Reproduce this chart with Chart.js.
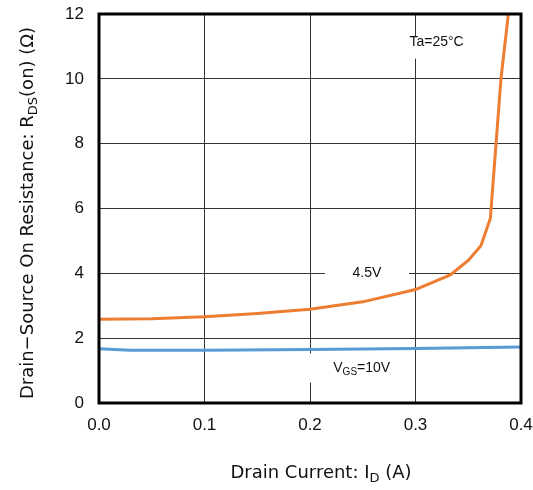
<!DOCTYPE html>
<html>
<head>
<meta charset="utf-8">
<script src="https://cdn.jsdelivr.net/npm/chart.js@4"></script>
<style>
  html, body { margin: 0; padding: 0; background: #fff; }
  #wrap { width: 533px; height: 490px; }
</style>
</head>
<body>
<div id="wrap"><canvas id="rdsChart" width="533" height="490"></canvas></div>
<script>
const FONT = '"Liberation Sans", Arial, sans-serif';
const TITLE_FONT = '"DejaVu Sans", sans-serif';

// I_D (A) and R_DS(on) (ohm)
const id45 = [0, 0.05, 0.1, 0.15, 0.2, 0.25, 0.3, 0.333, 0.35, 0.362, 0.371, 0.381, 0.388];
const rds45 = [2.58, 2.6, 2.66, 2.76, 2.89, 3.12, 3.5, 3.95, 4.4, 4.85, 5.7, 10, 12];
const id10 = [0, 0.03, 0.1, 0.2, 0.3, 0.4];
const rds10 = [1.67, 1.63, 1.63, 1.65, 1.68, 1.73];
const xTicks = [0, 0.1, 0.2, 0.3, 0.4];
const yTicks = [0, 2, 4, 6, 8, 10, 12];

const toPoints = (xs, ys) => xs.map((x, i) => ({ x, y: ys[i] }));

// labels on a white box inside the plot; text at (x, y), box centred at (bx, by)
const notes = [
  { text: 'Ta=25\u00B0C', x: 0.32, y: 11.12, bx: 0.32, by: 10.96, w: 66, h: 22 },
  { text: '4.5V', x: 0.254, y: 4.02, bx: 0.254, by: 4.0, w: 84, h: 22 },
  { text: 'V', sub: 'GS', after: '=10V', x: 0.249, y: 1.08, bx: 0.249, by: 1.08, w: 106, h: 29 }
];

function drawSubText(ctx, parts, cx, cy, size, family) {
  // parts: [text, sub, text]
  const fam = family || FONT;
  const subSize = Math.round(size * 0.7);
  ctx.font = `${size}px ${fam}`;
  const w1 = ctx.measureText(parts[0]).width;
  const w3 = ctx.measureText(parts[2]).width;
  ctx.font = `${subSize}px ${fam}`;
  const w2 = ctx.measureText(parts[1]).width;
  let x = cx - (w1 + w2 + w3) / 2;
  ctx.textAlign = 'left';
  ctx.textBaseline = 'middle';
  ctx.font = `${size}px ${fam}`;
  ctx.fillText(parts[0], x, cy);
  x += w1;
  ctx.font = `${subSize}px ${fam}`;
  ctx.fillText(parts[1], x, cy + size * 0.3);
  x += w2;
  ctx.font = `${size}px ${fam}`;
  ctx.fillText(parts[2], x, cy);
}

const decor = {
  id: 'decor',
  beforeDatasetsDraw(chart) {
    const { ctx, scales } = chart;
    ctx.save();
    notes.forEach(n => {
      const bx = scales.x.getPixelForValue(n.bx);
      const by = scales.y.getPixelForValue(n.by);
      ctx.fillStyle = '#fff';
      ctx.fillRect(bx - n.w / 2, by - n.h / 2, n.w, n.h);
      const cx = scales.x.getPixelForValue(n.x);
      const cy = scales.y.getPixelForValue(n.y);
      ctx.fillStyle = '#111';
      if (n.sub) {
        drawSubText(ctx, [n.text, n.sub, n.after], cx, cy, 14);
      } else {
        ctx.font = `14px ${FONT}`;
        ctx.textAlign = 'center';
        ctx.textBaseline = 'middle';
        ctx.fillText(n.text, cx, cy);
      }
    });
    ctx.restore();
  },
  afterDatasetsDraw(chart) {
    const { ctx, chartArea: a } = chart;
    ctx.save();
    ctx.strokeStyle = '#000';
    ctx.lineWidth = 3;
    ctx.strokeRect(a.left, a.top, a.right - a.left, a.bottom - a.top);
    ctx.restore();
  },
  afterDraw(chart) {
    const { ctx } = chart;
    ctx.save();
    ctx.fillStyle = '#111';
    // x axis title
    drawSubText(ctx, ['Drain Current: I', 'D', ' (A)'], 321, 473, 18, TITLE_FONT);
    // y axis title
    ctx.translate(28, 213);
    ctx.rotate(-Math.PI / 2);
    drawSubText(ctx, ['Drain\u2212Source On Resistance: R', 'DS', '(on) (\u03A9)'], 0, 0, 18, TITLE_FONT);
    ctx.restore();
  }
};

new Chart(document.getElementById('rdsChart'), {
  type: 'line',
  data: {
    datasets: [
      {
        label: '4.5V',
        data: toPoints(id45, rds45),
        borderColor: '#ED7D31',
        borderWidth: 3,
        pointRadius: 0,
        tension: 0
      },
      {
        label: '10V',
        data: toPoints(id10, rds10),
        borderColor: '#5B9BD5',
        borderWidth: 3,
        pointRadius: 0,
        tension: 0
      }
    ]
  },
  options: {
    responsive: false,
    animation: false,
    layout: { padding: { left: 0, right: 12, top: 14, bottom: 0 } },
    plugins: { legend: { display: false }, tooltip: { enabled: false } },
    scales: {
      x: {
        type: 'linear',
        min: 0,
        max: 0.4,
        afterBuildTicks: axis => { axis.ticks = xTicks.map(v => ({ value: v })); },
        afterFit: axis => {
          axis.height = 87;
          axis.paddingLeft = 0;
          axis.paddingRight = 0;
        },
        grid: { color: '#333', lineWidth: 1, drawTicks: false },
        border: { display: false },
        ticks: {
          padding: 12,
          color: '#111',
          font: { family: FONT, size: 17 },
          maxRotation: 0,
          callback: v => v.toFixed(1)
        }
      },
      y: {
        min: 0,
        max: 12,
        afterBuildTicks: axis => { axis.ticks = yTicks.map(v => ({ value: v })); },
        afterFit: axis => {
          axis.width = 99;
          axis.paddingTop = 0;
          axis.paddingBottom = 0;
        },
        grid: { color: '#333', lineWidth: 1, drawTicks: false },
        border: { display: false },
        ticks: {
          padding: 15,
          color: '#111',
          font: { family: FONT, size: 17 }
        }
      }
    }
  },
  plugins: [decor]
});
</script>
</body>
</html>
